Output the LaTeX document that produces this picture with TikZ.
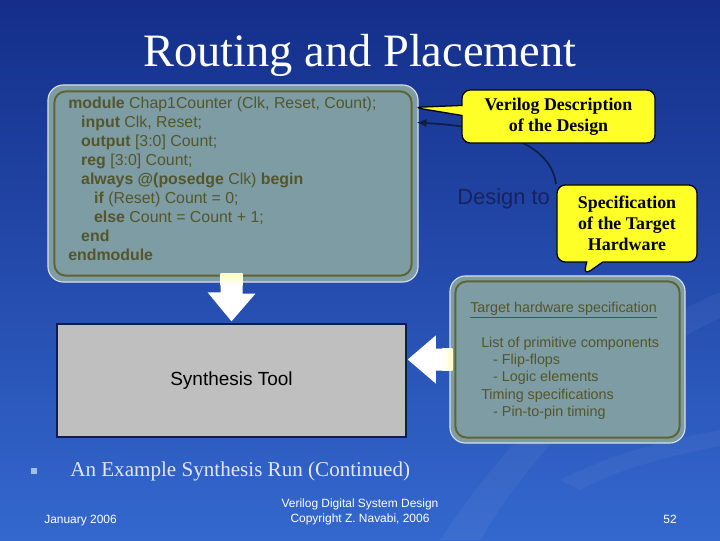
\documentclass[tikz,border=0pt]{standalone}
\usepackage{fontspec}
\setmainfont{Liberation Serif}
\newfontfamily\arial{Liberation Sans}
\usetikzlibrary{shapes.callouts,calc,arrows.meta}

\definecolor{bgtop}{RGB}{20,46,138}
\definecolor{bgmid}{RGB}{46,96,198}
\definecolor{bgbot}{RGB}{52,104,206}
\definecolor{boxfill}{RGB}{125,156,164}
\definecolor{olivetext}{RGB}{84,86,42}
\definecolor{oliveline}{RGB}{96,100,48}
\definecolor{balloonyellow}{RGB}{255,255,40}
\definecolor{navytext}{RGB}{24,34,92}
\definecolor{synthline}{RGB}{16,30,70}
\definecolor{bulletblue}{RGB}{160,192,232}
\definecolor{paleyellow}{RGB}{255,255,196}

\begin{document}
\begin{tikzpicture}[x=0.025cm, y=-0.025cm,
    every node/.style={inner sep=0pt},
    specbox/.style={rounded corners=11pt, fill=boxfill, draw=white!70!boxfill, line width=0.8pt},
    innerline/.style={rounded corners=8pt, draw=oliveline, line width=1.4pt},
    codefont/.style={font=\arial\fontsize{11.3}{13.5}\selectfont, text=olivetext, align=left},
    specfont/.style={font=\arial\fontsize{10.2}{12.3}\selectfont, text=olivetext, align=left},
    balloon/.style={rectangle callout, draw=black, line width=0.9pt, fill=balloonyellow, rounded corners=6pt, align=center, font=\bfseries\fontsize{12.7}{15}\selectfont},
    blockarrow/.style={fill=white, draw=none},
    footer/.style={font=\arial\fontsize{8.5}{10.6}\selectfont, text=white}]
  \useasboundingbox (0,0) rectangle (720,540);
  \shade[top color=bgtop, middle color=bgmid, bottom color=bgbot] (0,0) rectangle (720,540);
  % background swooshes
  \fill[white, opacity=0.045] (440,540) .. controls (520,420) and (610,340) .. (720,292) -- (720,318) .. controls (620,365) and (540,440) .. (480,540) -- cycle;
  \fill[white, opacity=0.04] (560,480) .. controls (620,450) and (670,440) .. (720,430) -- (720,446) .. controls (670,456) and (620,468) .. (580,490) -- cycle;

  \node[anchor=base, font=\fontsize{33}{40}\selectfont, text=white] (title) at (360,66) {Routing and Placement};

  % Verilog code
  \node[specbox, minimum width=9.25cm, minimum height=4.925cm] (codebox) at (233,183.5) {};
  \draw[innerline] ([shift={(7,7)}]codebox.north west) rectangle ([shift={(-7,-7)}]codebox.south east);
  \node[codefont, anchor=north west] (codetext) at (68,97) {%
    {\bfseries module} Chap1Counter (Clk, Reset, Count);\\
    \hspace*{9.2pt}{\bfseries input} Clk, Reset;\\
    \hspace*{9.2pt}{\bfseries output} [3:0] Count;\\
    \hspace*{9.2pt}{\bfseries reg} [3:0] Count;\\
    \hspace*{9.2pt}{\bfseries always @(posedge} Clk) {\bfseries begin}\\
    \hspace*{18.4pt}{\bfseries if} (Reset) Count = 0;\\
    \hspace*{18.4pt}{\bfseries else} Count = Count + 1;\\
    \hspace*{9.2pt}{\bfseries end}\\
    {\bfseries endmodule}};

  % target hardware
  \node[specbox, minimum width=5.875cm, minimum height=4.175cm] (targetbox) at (567.5,359.5) {};
  \draw[innerline] ([shift={(6,6)}]targetbox.north west) rectangle ([shift={(-6,-6)}]targetbox.south east);
  \node[specfont, anchor=north west] (targettext) at (470,302) {%
    \underline{Target hardware specification}\\[12.3pt]
    \hspace*{7.8pt}List of primitive components\\
    \hspace*{16.3pt}- Flip-flops\\
    \hspace*{16.3pt}- Logic elements\\
    \hspace*{7.8pt}Timing specifications\\
    \hspace*{16.3pt}- Pin-to-pin timing};

  \node[draw=synthline, line width=1pt, fill=gray!50, minimum width=8.725cm, minimum height=2.825cm,
        font=\arial\fontsize{13.5}{16}\selectfont] (synth) at (231.5,380.5) {Synthesis Tool};

  % block arrows
  \fill[blockarrow]
    ($(synth.north)+(0,-2)$) -- ++(-24,-29) -- ++(13,0) -- ($(synth.north |- codebox.south)+(-11,-9)$)
    -- ++(22,0) -- ++(0,20) -- ++(13,0) -- cycle;
  \shade[top color=paleyellow, bottom color=white]
    ($(synth.north |- codebox.south)+(-11,-9)$) rectangle ++(22,12);
  \fill[blockarrow]
    ($(synth.east |- targetbox.west)+(1,0)$) -- ++(28,-24) -- ++(0,13) -- ($(targetbox.west)+(3,-11)$)
    -- ++(0,22) -- ($(synth.east |- targetbox.west)+(29,11)$) -- ++(0,13) -- cycle;
  \shade[left color=white, right color=paleyellow]
    ($(targetbox.west)+(-7,-11)$) rectangle ++(10,22);

  % callouts
  \coordinate (curvestart) at (556,184);
  \draw[-{Latex[length=7pt,width=6pt]}, line width=1.2pt, draw=synthline]
    (curvestart) .. controls (550,140) and (490,127) .. ($(codebox.north east)+(-2,38)$);
  \node[balloon, minimum width=4.825cm, minimum height=1.325cm,
        callout absolute pointer={($(codebox.north east)+(-5,23)$)}] (verilognote) at (558.5,116.5) {Verilog Description\\of the Design};
  \node[anchor=base west, font=\arial\fontsize{15.6}{18}\selectfont, text=navytext] (designto) at (457,204) {Design to};
  \node[balloon, minimum width=3.5cm, minimum height=1.925cm, callout pointer width=0.4cm,
        callout absolute pointer={($(targetbox.north)+(16,0)$)}] (specnote) at (627,223.5) {Specification\\of the Target\\Hardware};

  % bullet and footer
  \node[fill=bulletblue, minimum size=0.15cm] (bullet) at (34,471) {};
  \node[anchor=base west, font=\fontsize{15}{18}\selectfont, text=white!90!blue] (bullettext) at (70,476) {An Example Synthesis Run (Continued)};
  \node[footer, anchor=base west] (date) at (44,523) {January 2006};
  \node[footer, align=center] (course) at (360,512) {Verilog Digital System Design\\Copyright Z. Navabi, 2006};
  \node[footer, anchor=base east] (pagenum) at (677,523) {52};
\end{tikzpicture}
\end{document}
